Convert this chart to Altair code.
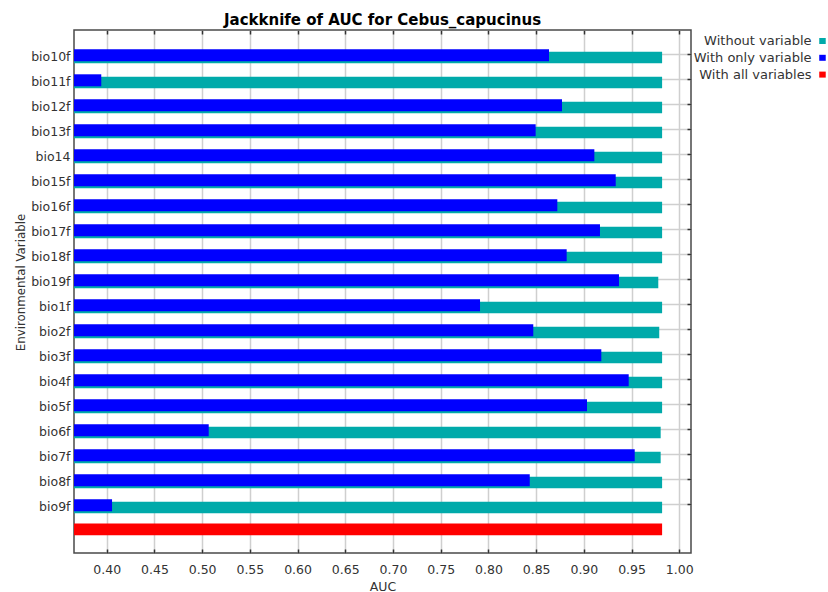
import json
import altair as alt
import pandas as pd

# ---------------- data ----------------
variables = ["bio10f", "bio11f", "bio12f", "bio13f", "bio14", "bio15f", "bio16f",
             "bio17f", "bio18f", "bio19f", "bio1f", "bio2f", "bio3f", "bio4f",
             "bio5f", "bio6f", "bio7f", "bio8f", "bio9f"]
auc_without = [0.982, 0.982, 0.982, 0.982, 0.982, 0.982, 0.982, 0.982, 0.982, 0.978,
               0.982, 0.979, 0.982, 0.982, 0.982, 0.9805, 0.9805, 0.982, 0.982]
auc_only = [0.8635, 0.3943, 0.8771, 0.8495, 0.9110, 0.9334, 0.8722, 0.9169, 0.8820,
            0.9368, 0.7912, 0.8470, 0.9183, 0.9470, 0.9033, 0.5069, 0.9533, 0.8433,
            0.4056]
auc_all = [0.982]
series_names = ["Without variable", "With only variable", "With all variables"]
series_colors = ["#00AAAA", "#0000FF", "#FF0000"]
x_ticks = [0.40, 0.45, 0.50, 0.55, 0.60, 0.65, 0.70, 0.75, 0.80, 0.85, 0.90, 0.95, 1.00]
title_text = "Jackknife of AUC for Cebus_capucinus"

rows = list(range(len(variables)))
without_df = pd.DataFrame({"row": rows, "variable": variables, "auc": auc_without,
                           "series": series_names[0]})
only_df = pd.DataFrame({"row": rows, "variable": variables, "auc": auc_only,
                        "series": series_names[1]})
all_df = pd.DataFrame({"row": [len(variables)], "auc": auc_all, "series": [series_names[2]]})

FONT = "DejaVu Sans"

xs = alt.Scale(domain=[0.36573, 1.01228], nice=False, zero=False, padding=0)
ys = alt.Scale(domain=[-0.972, 19.948], nice=False, zero=False, reverse=True, padding=0)

# legend swatch drawn to the right of its (right-aligned) label
swatch_path = "M 2.28 -0.48 L 3.32 -0.48 L 3.32 0.48 L 2.28 0.48 Z"

color = alt.Color(
    "series:N",
    scale=alt.Scale(domain=series_names, range=series_colors),
    legend=alt.Legend(orient="none", legendX=724.5, legendY=4.5, title=None,
                      symbolType=swatch_path, symbolSize=156, symbolStrokeWidth=0,
                      symbolOpacity=1, symbolOffset=0,
                      labelAlign="right", labelOffset=0,
                      labelFont=FONT, labelFontSize=13, labelColor="#333333",
                      rowPadding=2.8, padding=0),
)

label_expr = json.dumps(variables) + "[datum.value]"

teal = alt.Chart(without_df).mark_bar(orient="horizontal", size=11.5, yOffset=3.3).encode(
    x=alt.X("auc:Q", scale=xs, stack=None,
            axis=alt.Axis(orient="bottom", values=x_ticks, format=".2f", grid=True,
                          ticks=False, domain=False, labelPadding=20,
                          labelBaseline="alphabetic", title="AUC", titleY=37,
                          titleBaseline="alphabetic")),
    x2=alt.value(0),
    y=alt.Y("row:Q", scale=ys,
            axis=alt.Axis(orient="left", values=rows, labelExpr=label_expr, grid=True,
                          ticks=False, domain=False, labelPadding=4, labelOffset=2.5,
                          labelBaseline="middle",
                          title="Environmental Variable", titleX=-54, titleY=252,
                          titleFontSize=11.8,
                          titleAngle=270, titleAlign="center", titleBaseline="middle")),
    color=color,
)

blue = alt.Chart(only_df).mark_bar(orient="horizontal", size=12, yOffset=1).encode(
    x=alt.X("auc:Q", scale=xs, stack=None,
            axis=alt.Axis(orient="top", values=x_ticks, offset=-4, tickSize=4,
                          labels=False, grid=False, domain=False, title=None)),
    x2=alt.value(0),
    y=alt.Y("row:Q", scale=ys,
            axis=alt.Axis(orient="right", values=rows, offset=-4, tickSize=4,
                          labels=False, grid=False, domain=False, title=None)),
    color=color,
)

red = alt.Chart(all_df).mark_bar(orient="horizontal", size=11.7).encode(
    x=alt.X("auc:Q", scale=xs, stack=None,
            axis=alt.Axis(orient="bottom", values=x_ticks, offset=-4, tickSize=4,
                          labels=False, grid=False, domain=False, title=None)),
    x2=alt.value(0),
    y=alt.Y("row:Q", scale=ys, axis=None),
    color=color,
)

chart = (
    alt.layer(teal, blue, red)
    .resolve_axis(x="independent", y="independent")
    .properties(
        width=617, height=523,
        autosize=alt.AutoSizeParams(type="none"),
        padding={"left": 74, "top": 30, "right": 137, "bottom": 39},
        title=alt.TitleParams(title_text, font=FONT, fontSize=15, fontWeight="bold",
                              color="#000000", anchor="middle", frame="group",
                              offset=1),
    )
    .configure_view(stroke="#4a4a4a", strokeWidth=1.5)
    .configure_axis(labelFont=FONT, labelFontSize=12.5, labelColor="#333333",
                    titleFont=FONT, titleFontSize=12.5, titleColor="#333333",
                    titleFontWeight="normal", gridColor="#cfcfcf", gridWidth=1.5,
                    tickColor="#333333", tickWidth=1.5)
)

chart.save("out.html", embed_options={"renderer": "svg", "actions": False})
